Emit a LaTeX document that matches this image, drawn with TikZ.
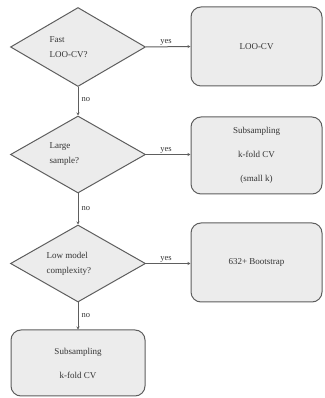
\documentclass[tikz,border=0pt]{standalone}
\usepackage{fontspec}
\setmainfont{Liberation Serif}
\usetikzlibrary{shapes.geometric,arrows.meta}
\definecolor{boxfill}{HTML}{ECECEC}
\definecolor{edge}{HTML}{5E5E5E}
\definecolor{txt}{HTML}{333333}
\tikzset{
  decision/.style={diamond,draw=edge,fill=boxfill,line width=1pt,inner sep=0pt,minimum width=135pt,minimum height=#1,aspect=1.7},
  outcome/.style={rectangle,rounded corners=10pt,draw=edge,fill=boxfill,line width=1pt,inner sep=0pt,minimum width=131pt,minimum height=#1,align=center,font=\fontsize{9}{24}\selectfont,text=txt},
  qtext/.style={align=left,font=\fontsize{9}{15}\selectfont,text=txt},
  link/.style={draw=edge,line width=1pt,-{Stealth[length=3pt,width=3pt]}},
  lbl/.style={font=\fontsize{8.5}{10}\selectfont,text=txt,inner sep=1pt}
}
\begin{document}
\begin{tikzpicture}[x=1pt,y=1pt]
\useasboundingbox (0,0) rectangle (324,398);
% decisions
\node[decision=79pt] (d1) at (78,351) {};
\node[qtext,anchor=west] (t1) at (46,351) {Fast\\LOO-CV?};
\node[decision=77pt] (d2) at (78,243.5) {};
\node[qtext,anchor=west] (t2) at (46,243.5) {Large\\sample?};
\node[decision=77pt] (d3) at (78,134.5) {};
\node[qtext,anchor=west] (t3) at (43,134.5) {Low model\\complexity?};
% outcomes
\node[outcome=79pt] (o1) at (256.5,351.5) {LOO-CV};
\node[outcome=77pt] (o2) at (256.5,242.5) {Subsampling\\k-fold CV\\(small k)};
\node[outcome=79pt] (o3) at (256.5,135.5) {632+ Bootstrap};
\node[outcome=66pt,minimum width=134pt] (o4) at (78,35) {Subsampling\\k-fold CV};
% connectors
\draw[link] (d1.east) -- node[lbl,above,pos=0.45] (y1) {yes} (o1.west);
\draw[link] (d2.east) -- node[lbl,above,pos=0.45] (y2) {yes} (o2.west |- d2.east);
\draw[link] (d3.east) -- node[lbl,above,pos=0.45] (y3) {yes} (o3.west |- d3.east);
\draw[link] (d1.south) -- node[lbl,right,pos=0.45,xshift=2pt] (n1) {no} (d2.north);
\draw[link] (d2.south) -- node[lbl,right,pos=0.5,xshift=2pt] (n2) {no} (d3.north);
\draw[link] (d3.south) -- node[lbl,right,pos=0.5,xshift=2pt] (n3) {no} (o4.north);
\end{tikzpicture}
\end{document}
